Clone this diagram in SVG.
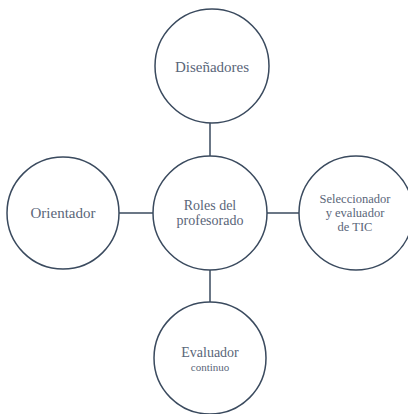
<svg xmlns="http://www.w3.org/2000/svg" width="408" height="414" viewBox="0 0 408 414">
<style>
.node{fill:#ffffff;stroke:#3a4a5e;stroke-width:1.5}
.conn{stroke:#3a4a5e;stroke-width:1.5;fill:none}
.lbl{font-family:"Liberation Serif",Tinos,"Noto Serif","DejaVu Serif",FreeSerif,Times,serif;fill:#5a6679;text-anchor:middle}
</style>
<rect width="408" height="414" fill="#ffffff"/>
<g id="connectors">
<line class="conn" x1="210" y1="123" x2="210" y2="157"/>
<line class="conn" x1="119" y1="213" x2="153" y2="213"/>
<line class="conn" x1="267" y1="213" x2="299" y2="213"/>
<line class="conn" x1="210" y1="269" x2="210" y2="302"/>
</g>
<g id="center">
<circle class="node" cx="210" cy="213" r="57"/>
<text class="lbl" x="210" y="210" font-size="14">Roles del</text>
<text class="lbl" x="210" y="225" font-size="14">profesorado</text>
</g>
<g id="top">
<circle class="node" cx="212" cy="66" r="57"/>
<text class="lbl" x="212" y="72" font-size="15">Diseñadores</text>
</g>
<g id="left">
<circle class="node" cx="63" cy="213" r="56"/>
<text class="lbl" x="63" y="218" font-size="15">Orientador</text>
</g>
<g id="right">
<circle class="node" cx="356" cy="213" r="57"/>
<text class="lbl" x="355" y="203" font-size="12.5">Seleccionador</text>
<text class="lbl" x="355" y="217" font-size="12.5">y evaluador</text>
<text class="lbl" x="355" y="231" font-size="12.5">de TIC</text>
</g>
<g id="bottom">
<circle class="node" cx="210" cy="358" r="56"/>
<text class="lbl" x="210" y="357" font-size="14">Evaluador</text>
<text class="lbl" x="210" y="371" font-size="11">continuo</text>
</g>
</svg>
